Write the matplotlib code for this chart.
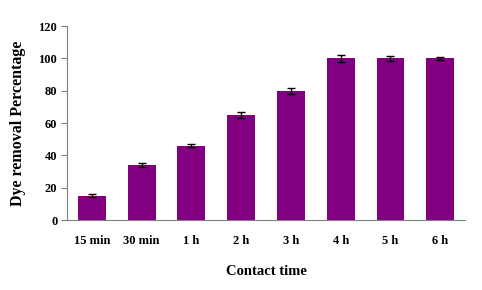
import matplotlib
matplotlib.use("Agg")
from matplotlib import pyplot as plt

times = ["15 min", "30 min", "1 h", "2 h", "3 h", "4 h", "5 h", "6 h"]
removal = [15, 34, 46, 65, 80, 100, 100, 100]
errors = [1.0, 1.2, 1.0, 1.6, 2.0, 2.2, 1.3, 0.7]

plt.rcParams["font.family"] = ["Liberation Serif", "DejaVu Serif"]
plt.rcParams["font.weight"] = "bold"

fig = plt.figure(figsize=(4.82, 2.90), dpi=100)
ax = fig.add_axes([0.139, 0.241, 0.826, 0.669])

x = range(len(times))
ax.bar(x, removal, width=0.56, color="#800080", yerr=errors,
       error_kw=dict(ecolor="black", elinewidth=1, capsize=3, capthick=1))

ax.set_xlim(-0.5, len(times) - 0.5)
ax.set_ylim(0, 120)
ax.set_yticks(range(0, 121, 20))
ax.set_xticks(list(x))
ax.set_xticklabels(times)
ax.tick_params(axis="x", length=0, pad=11, labelsize=9)
ax.tick_params(axis="y", length=4, color="#808080", labelsize=9, pad=3)

for side in ["top", "right"]:
    ax.spines[side].set_visible(False)
for side in ["left", "bottom"]:
    ax.spines[side].set_color("#808080")

ax.set_xlabel("Contact time", fontsize=10.5, fontweight="bold", labelpad=13)
ax.set_ylabel("Dye removal Percentage", fontsize=11.5, fontweight="bold", labelpad=9)

fig.savefig("out.png", dpi=100)
